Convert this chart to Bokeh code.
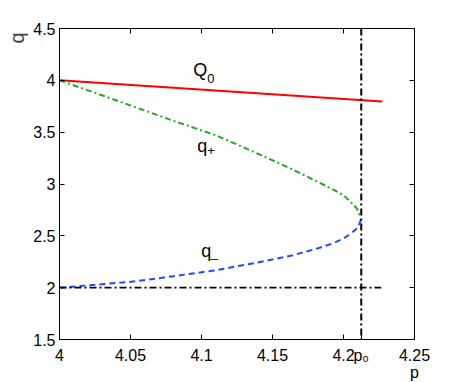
from bokeh.plotting import figure
from bokeh.models import (LinearAxis, FixedTicker, CustomJSTickFormatter, Span, Label, Range1d, Title)
from bokeh.embed import file_html
from bokeh.resources import INLINE

# ---- data ----
Q0_p = [4.0, 4.2273]
Q0_q = [4.0, 3.795]

qplus_p = [4.0, 4.025, 4.0535, 4.08, 4.1096, 4.136, 4.1625, 4.185, 4.2, 4.207, 4.2094, 4.2108, 4.2125]
qplus_q = [4.0, 3.88, 3.741, 3.61, 3.473, 3.315, 3.151, 3.00, 2.893, 2.80, 2.764, 2.716, 2.68]

qminus_p = [4.0, 4.025, 4.0535, 4.08, 4.1096, 4.1437, 4.165, 4.1813, 4.192, 4.2, 4.205, 4.2094, 4.2118, 4.2125]
qminus_q = [2.0, 2.027, 2.061, 2.11, 2.167, 2.254, 2.315, 2.377, 2.425, 2.474, 2.52, 2.571, 2.634, 2.68]

p0 = 4.2125
base_p = [4.0, 4.2265]
base_q = [2.0, 2.0]

x_ticks = [4.0, 4.05, 4.1, 4.15, 4.2, p0, 4.25]
x_tick_labels = ["4", "4.05", "4.1", "4.15", "4.2", "p\u2080", "4.25\np"]
y_ticks = [1.5, 2.0, 2.5, 3.0, 3.5, 4.0, 4.5]
y_tick_labels = ["1.5", "2", "2.5", "3", "3.5", "4", "4.5"]

FONT = "Liberation Sans"

p = figure(frame_width=355, frame_height=311, output_backend="svg", toolbar_location=None,
           x_range=Range1d(4.0, 4.25), y_range=Range1d(1.5, 4.5),
           min_border_left=59, min_border_top=28, min_border_right=34, min_border_bottom=35)
p.background_fill_color = "white"
p.border_fill_color = "white"
p.outline_line_color = "black"
p.outline_line_width = 1
p.xgrid.visible = False
p.ygrid.visible = False

def list_formatter(ticks, labels):
    return CustomJSTickFormatter(
        args=dict(tv=ticks, tl=labels),
        code="""
        for (let i = 0; i < tv.length; i++) {
            if (Math.abs(tv[i] - tick) < 1e-9) return tl[i];
        }
        return '';
        """)

blank = CustomJSTickFormatter(code="return '';")

def style_axis(ax, ticks, formatter, standoff):
    ax.ticker = FixedTicker(ticks=ticks)
    ax.formatter = formatter
    ax.major_tick_in = 5
    ax.major_tick_out = 0
    ax.minor_tick_line_color = None
    ax.axis_line_color = "black"
    ax.major_tick_line_color = "black"
    ax.major_label_text_font = FONT
    ax.major_label_text_color = "black"
    ax.major_label_text_font_size = "16px"
    ax.major_label_standoff = standoff

style_axis(p.xaxis[0], x_ticks, list_formatter(x_ticks, x_tick_labels), 7)
p.xaxis[0].major_label_text_line_height = 1.0
style_axis(p.yaxis[0], y_ticks, list_formatter(y_ticks, y_tick_labels), 4)
top = LinearAxis()
right = LinearAxis()
style_axis(top, [t for t in x_ticks if t != p0], blank, 0)
style_axis(right, y_ticks, blank, 0)
p.add_layout(top, "above")
p.add_layout(right, "right")

# y-axis name at the top end of the axis
p.add_layout(Title(text="q", align="right", text_font=FONT, text_font_size="20px",
                   text_font_style="normal", standoff=6, offset=4), "left")

# lines
p.line(Q0_p, Q0_q, line_color="#ff0000", line_width=2)
p.line(qplus_p, qplus_q, line_color="#22aa22", line_width=2, line_dash="6 3 2 3")
p.line(qminus_p, qminus_q, line_color="#2248ff", line_width=2, line_dash="6 4")
p.line(base_p, base_q, line_color="black", line_width=1.6, line_dash="7 3 2 3")
p.add_layout(Span(location=p0, dimension="height", line_color="black", line_width=2,
                  line_dash="7 3 2 3"))

def lab(x, y, t, size, baseline="alphabetic"):
    p.add_layout(Label(x=x, y=y, text=t, text_font=FONT, text_font_size=size,
                       text_align="left", text_baseline=baseline, text_color="black"))

# curve labels
lab(4.0942, 4.095, "Q", "18px")
lab(4.1040, 4.022, "0", "13px")
lab(4.0970, 3.362, "q", "18px")
lab(4.1040, 3.323, "+", "13px", baseline="middle")
lab(4.0998, 2.351, "q", "18px")
lab(4.1065, 2.341, "_", "13px")

open("out.html", "w").write(file_html(p, INLINE))
